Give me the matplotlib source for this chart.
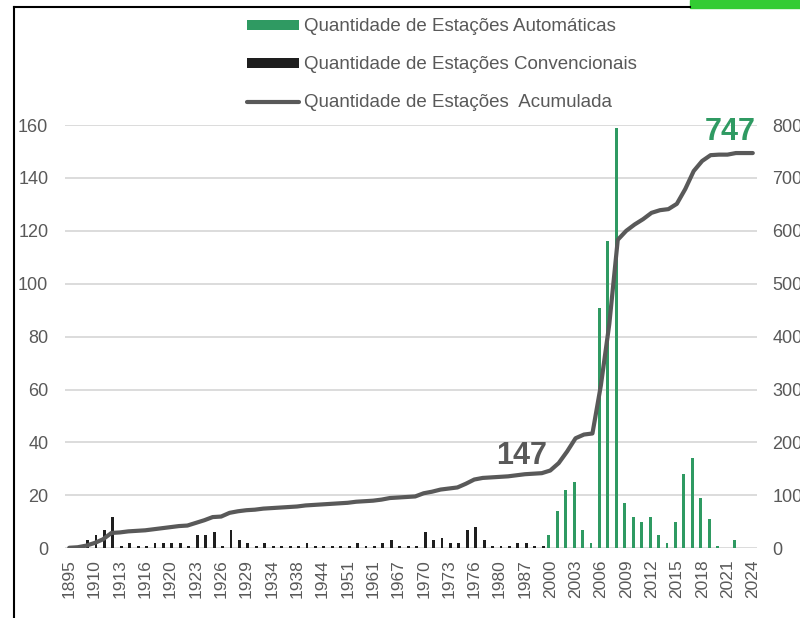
import matplotlib.pyplot as plt
import numpy as np
from matplotlib.lines import Line2D
from matplotlib.patches import Rectangle

plt.rcParams['font.family'] = ['Liberation Sans', 'DejaVu Sans']

# Anos (categorias do eixo X)
anos = [1895, 1900, 1905, 1910, 1911, 1912, 1913, 1914, 1915, 1916, 1917, 1918,
        1920, 1921, 1922, 1923, 1924, 1925, 1926, 1927, 1928, 1929, 1930, 1932,
        1934, 1935, 1936, 1938, 1940, 1942, 1944, 1946, 1948, 1951, 1955, 1958,
        1961, 1963, 1965, 1967, 1968, 1969, 1970, 1971, 1972, 1973, 1974, 1975,
        1976, 1977, 1978, 1980, 1983, 1985, 1987, 1990, 1995] + list(range(2000, 2025))

# Estações convencionais (até 1999)
convencionais = [1, 1, 3, 5, 7, 12, 1, 2, 1, 1, 2, 2, 2, 2, 1, 5, 5, 6, 1, 7, 3, 2,
                 1, 2, 1, 1, 1, 1, 2, 1, 1, 1, 1, 1, 2, 1, 1, 2, 3, 1, 1, 1,
                 6, 3, 4, 2, 2, 7, 8, 3, 1, 1, 1, 2, 2, 1, 1] + [0] * 25

# Estações automáticas (2000-2024)
automaticas = [0] * 57 + [5, 14, 22, 25, 7, 2, 91, 116, 159, 17, 12, 10, 12, 5, 2,
                          10, 28, 34, 19, 11, 1, 0, 3, 0, 0]

acumulada = np.cumsum(np.array(convencionais) + np.array(automaticas))

verde = '#2F9A62'
preto = '#1E1E1E'
cinza = '#595959'

fig = plt.figure(figsize=(8, 6.18), dpi=100)
ax = fig.add_axes([65 / 800, 1 - 548.3 / 618, 692 / 800, (548.3 - 125) / 618])
ax2 = ax.twinx()

x = np.arange(len(anos))
w = 0.34
ax.bar(x - w / 2, automaticas, width=w, color=verde, label='Quantidade de Estações Automáticas', zorder=2)
ax.bar(x + w / 2, convencionais, width=w, color=preto, label='Quantidade de Estações Convencionais', zorder=2)
ax2.plot(x, acumulada, color=cinza, lw=3, solid_capstyle='round', solid_joinstyle='round',
         label='Quantidade de Estações  Acumulada')

ax.set_xlim(-0.5, len(anos) - 0.5)
ax.set_ylim(0, 160)
ax2.set_ylim(0, 800)
ax.set_yticks(range(0, 161, 20))
ax2.set_yticks(range(0, 801, 100))
ax.set_xticks(x[::3])
ax.set_xticklabels([str(a) for a in anos[::3]], rotation=90)
ax.grid(axis='y', color='#D9D9D9', lw=1.3, zorder=0)
ax.set_axisbelow(True)

for a in (ax, ax2):
    for s in a.spines.values():
        s.set_visible(False)
    a.tick_params(length=0, colors=cinza, labelsize=13)
ax.tick_params(axis='y', pad=12)
ax2.tick_params(axis='y', pad=11)
ax.tick_params(axis='x', pad=8, labelsize=12.5)

# Rótulos de dados
ax2.annotate('147', (57, acumulada[57]), xytext=(-29, 15), textcoords='offset pixels',
             ha='center', va='center', fontsize=22, fontweight='bold', color=cinza)
ax2.annotate('747', (81, acumulada[81]), xytext=(-23, 21), textcoords='offset pixels',
             ha='center', va='center', fontsize=22, fontweight='bold', color=verde)

h1, l1 = ax.get_legend_handles_labels()
h2, l2 = ax2.get_legend_handles_labels()
fig.legend(h1 + h2, l1 + l2, loc='center', bbox_to_anchor=(0.5525, 0.895), frameon=False,
           fontsize=13.5, labelcolor=cinza, handlelength=2.8, handleheight=0.45,
           handletextpad=0.25, labelspacing=1.12, borderpad=0)

# moldura da captura
fig.add_artist(Line2D([14 / 800, 14 / 800], [0, 1 - 7 / 618], color='black', lw=1.5))
fig.add_artist(Line2D([14 / 800, 690 / 800], [1 - 7 / 618, 1 - 7 / 618], color='black', lw=1.5))
fig.add_artist(Rectangle((690 / 800, 1 - 8 / 618), 110 / 800, 8 / 618, color='#33CC33',
                         transform=fig.transFigure))

fig.savefig('out.png', dpi=100)
